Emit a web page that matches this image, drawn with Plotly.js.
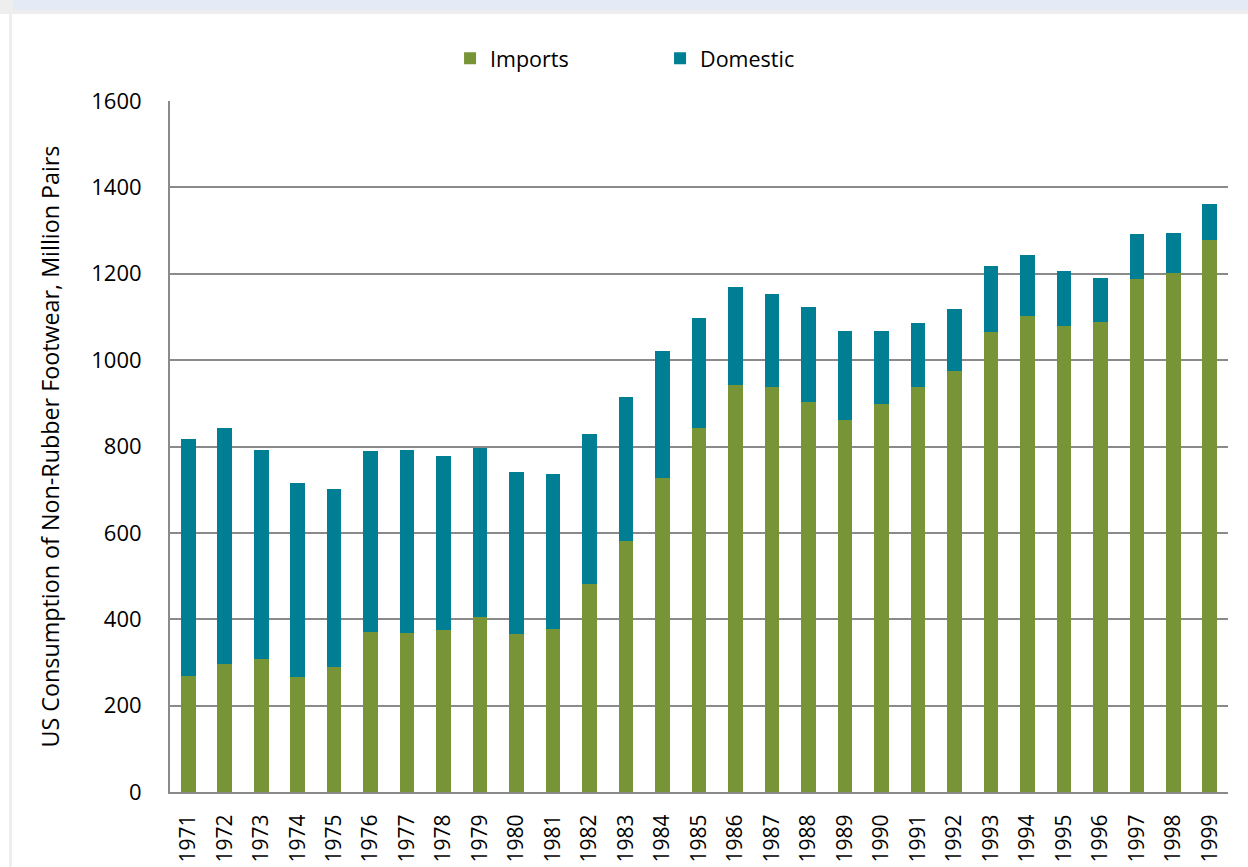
<!DOCTYPE html>
<html>
<head>
<meta charset="utf-8">
<script src="https://cdn.plot.ly/plotly-3.0.1.min.js"></script>
<style>
  html, body { margin: 0; padding: 0; background: #ffffff; }
  #frameTop { position: absolute; left: 0; top: 0; width: 1248px; height: 14px; background: #eeeeee; }
  #frameBlue { position: absolute; left: 13px; top: 0; width: 1235px; height: 10px; background: #e4ebf7; }
  #frameLeft { position: absolute; left: 9px; top: 0; width: 3px; height: 867px; background: #eeeeee; }
  #chart { position: absolute; left: 0; top: 0; width: 1248px; height: 867px; }
</style>
</head>
<body>
<div id="frameTop"></div>
<div id="frameBlue"></div>
<div id="frameLeft"></div>
<div id="chart"></div>
<script>
const years = ['1971','1972','1973','1974','1975','1976','1977','1978','1979','1980',
  '1981','1982','1983','1984','1985','1986','1987','1988','1989','1990',
  '1991','1992','1993','1994','1995','1996','1997','1998','1999'];
const imports = [269, 297, 308, 266, 289, 370, 369, 374, 405, 366,
  377, 481, 582, 726, 843, 942, 938, 903, 861, 898,
  938, 974, 1066, 1102, 1080, 1088, 1188, 1202, 1278];
const totals = [818, 843, 792, 715, 702, 789, 793, 779, 797, 740,
  736, 830, 914, 1021, 1097, 1169, 1154, 1122, 1068, 1067,
  1087, 1118, 1218, 1243, 1206, 1191, 1291, 1294, 1361];
const domestic = totals.map((t, i) => t - imports[i]);
const seriesNames = ['Imports', 'Domestic'];
const yTickVals = [0, 200, 400, 600, 800, 1000, 1200, 1400, 1600];
const yTitle = 'US Consumption of Non-Rubber Footwear, Million Pairs';

const font = 'Open Sans, Noto Sans, sans-serif';

const traces = [
  { type: 'bar', name: seriesNames[0], x: years, y: imports,
    marker: { color: '#779437', line: { width: 0 } } },
  { type: 'bar', name: seriesNames[1], x: years, y: domestic,
    marker: { color: '#007e93', line: { width: 0 } } }
];

const layout = {
  width: 1248, height: 867,
  barmode: 'stack', bargap: 0.6,
  paper_bgcolor: 'rgba(0,0,0,0)', plot_bgcolor: 'rgba(0,0,0,0)',
  margin: { l: 170, r: 20, t: 101, b: 75 },
  font: { family: font, color: '#000000', size: 22 },
  showlegend: true,
  legend: { orientation: 'h', x: 0.2647, xanchor: 'left', y: 1.062, yanchor: 'middle',
    font: { family: font, size: 21.5, color: '#000' }, itemwidth: 30, traceorder: 'normal',
    entrywidth: 165 },
  xaxis: { type: 'category', tickangle: -90, showgrid: false, showline: true,
    linecolor: '#8a8a8a', linewidth: 2, ticks: '', ticklabelstandoff: 12,
    tickfont: { family: font, size: 21 } },
  yaxis: { range: [0, 1600], tickvals: yTickVals, showgrid: true, gridcolor: '#8a8a8a',
    gridwidth: 2, showline: true, linecolor: '#8a8a8a', linewidth: 2, zeroline: false,
    ticks: '', ticklabelstandoff: 22, tickfont: { family: font, size: 22 },
    title: { text: yTitle, font: { family: font, size: 23.3 }, standoff: 25 } }
};

Plotly.newPlot('chart', traces, layout, { displayModeBar: false, staticPlot: true });
</script>
</body>
</html>
